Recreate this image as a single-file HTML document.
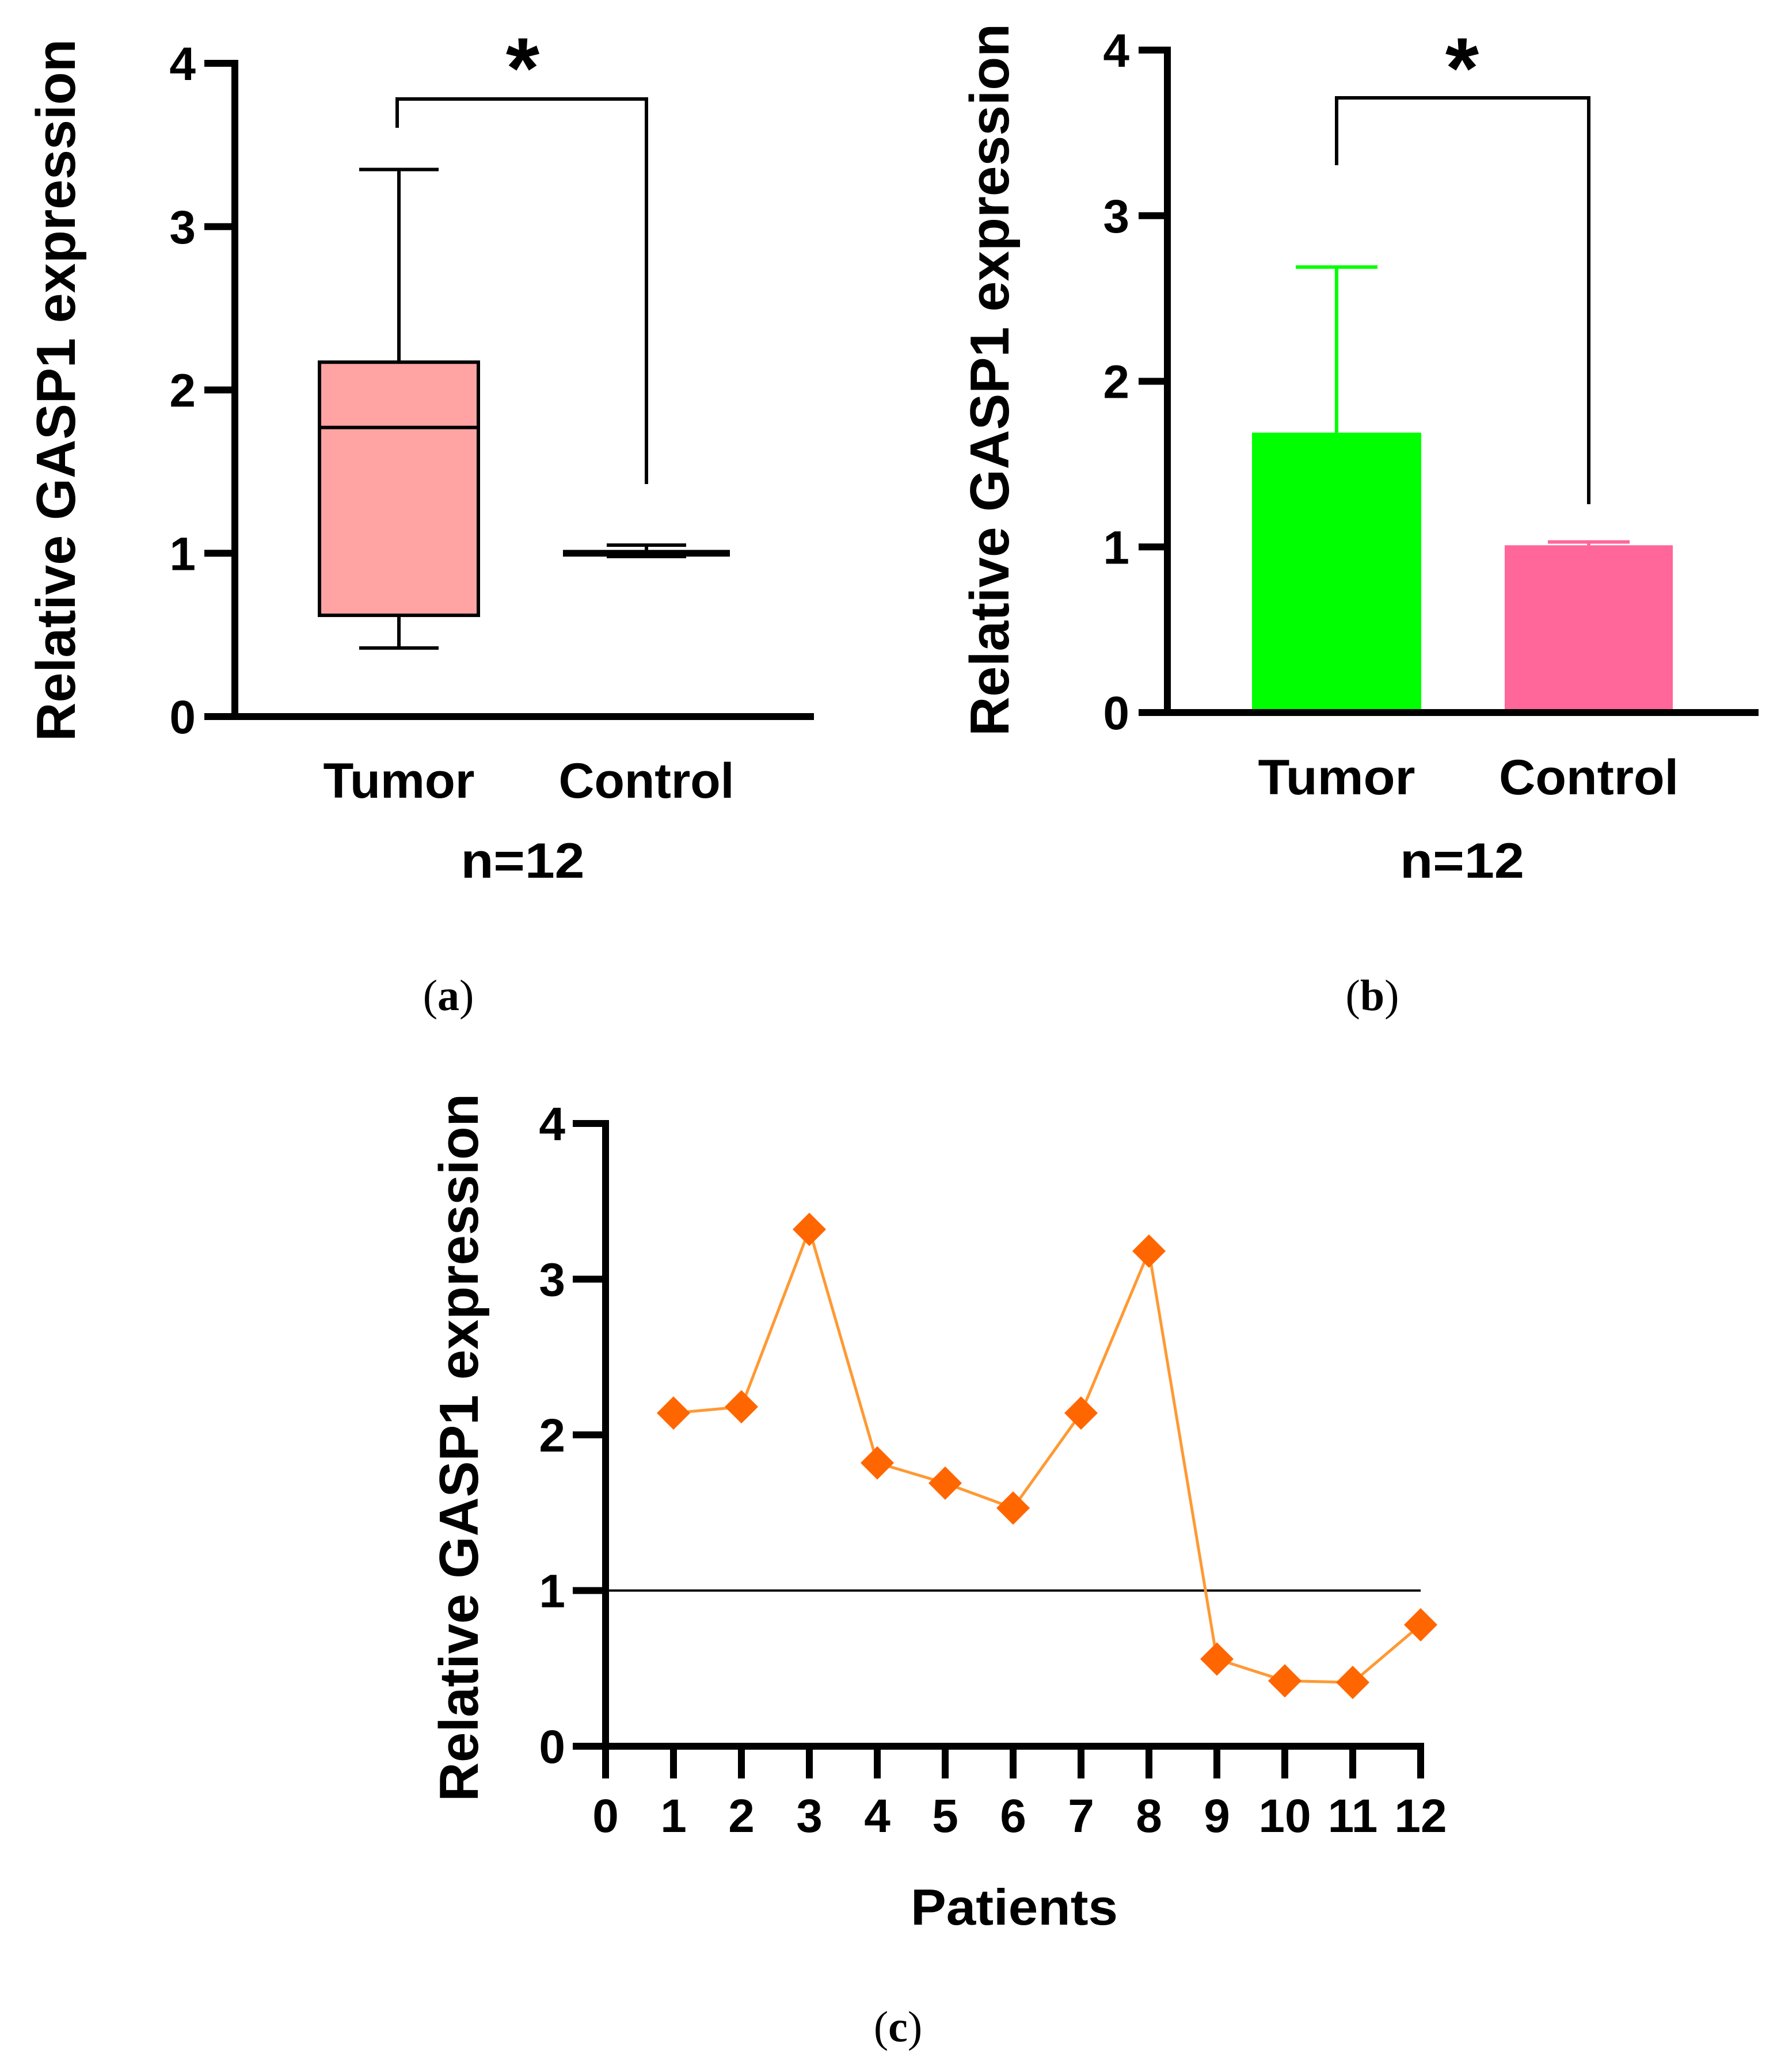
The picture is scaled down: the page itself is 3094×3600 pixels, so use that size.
<!DOCTYPE html>
<html><head><meta charset="utf-8"><style>
html,body{margin:0;padding:0;background:#fff}
svg{display:block}
text{font-family:"Liberation Sans",Arial,sans-serif;font-weight:bold;fill:#000}
.cap{font-family:"Liberation Serif",serif;font-weight:normal}
</style></head><body>
<svg id="fig" width="3094" height="3600" viewBox="0 0 3094 3600" xmlns="http://www.w3.org/2000/svg">
<g id="pa"></g>
<g id="pb"></g>
<g id="pc"></g>
<text class="cap" x="779" y="1755" font-size="76" text-anchor="middle">(<tspan font-weight="bold">a</tspan>)</text>
<text class="cap" x="2384" y="1755" font-size="76" text-anchor="middle">(<tspan font-weight="bold">b</tspan>)</text>
<text class="cap" x="1560" y="3547" font-size="76" text-anchor="middle">(<tspan font-weight="bold">c</tspan>)</text>
</svg>
<script>
const yTicks = [0, 1, 2, 3, 4];
const boxGroups = ["Tumor", "Control"];
const boxMin = [0.42, 0.98];
const boxQ1 = [0.62, 0.99];
const boxMedian = [1.77, 1.0];
const boxQ3 = [2.17, 1.01];
const boxMax = [3.35, 1.05];
const barGroups = ["Tumor", "Control"];
const barMeans = [1.69, 1.01];
const barErrors = [1.0, 0.02];
const patients = [1,2,3,4,5,6,7,8,9,10,11,12];
const expression = [2.14, 2.18, 3.32, 1.82, 1.69, 1.53, 2.14, 3.18, 0.56, 0.42, 0.41, 0.78];
const xTicksC = [0,1,2,3,4,5,6,7,8,9,10,11,12];
const refLevel = 1;

const NS = "http://www.w3.org/2000/svg";
function mk(parent, tag, attrs, txt){
  const e = document.createElementNS(NS, tag);
  for (const k in attrs) e.setAttribute(k, attrs[k]);
  if (txt !== undefined) e.textContent = txt;
  parent.appendChild(e);
  return e;
}
function yAxis(g, x, y0, y4, tickLeft, labelX, fs){
  const ys = v => y0 + (y4 - y0) * v / 4;
  let e = mk(g, "line", {x1:x, y1:y4-6, x2:x, y2:y0+6, stroke:"#000","stroke-width":12});
  
  
  yTicks.forEach(t => {
    let l = mk(g, "line", {x1:tickLeft, y1:ys(t), x2:x, y2:ys(t), stroke:"#000","stroke-width":12});
    
    
    let tx = mk(g, "text", {x:labelX, y:ys(t)+29, "font-size":82, "text-anchor":"end"}, String(t));
    
    
  });
  return ys;
}
function yTitle(g, cx, cy, len){
  let t = mk(g, "text", {x:0, y:0, "font-size":96, "text-anchor":"middle", textLength:len, lengthAdjust:"spacingAndGlyphs", transform:`translate(${cx},${cy}) rotate(-90)`}, "Relative GASP1 expression");
  
  
}
function txt(g, x, y, s, fs, len, name){
  let t = mk(g, "text", {x:x, y:y, "font-size":fs, "text-anchor":"middle", textLength:len, lengthAdjust:"spacingAndGlyphs"}, s);
  
  
  return t;
}
function bracket(g, xl, yl, xr, yr, top, ax, ay){
  let p = mk(g, "path", {d:`M${xl},${yl} V${top} H${xr} V${yr}`, fill:"none", stroke:"#000","stroke-width":6});
  
  
  let s = mk(g, "text", {x:ax, y:ay, "font-size":150, "text-anchor":"middle"}, "*");
  
  
}

// Panel A
(function(){
  const g = document.getElementById("pa");
  const ys = yAxis(g, 408, 1245, 110, 355, 340, 82);
  let xa = mk(g, "line", {x1:355, y1:1245, x2:1414, y2:1245, stroke:"#000","stroke-width":12});
  
  
  const centers = [693, 1123], halfW = [138, 142], capW = [69, 69];
  const fills = ["#FFA3A3", "#FFFFFF"];
  const widths = [263, 305];
  boxGroups.forEach((name, i) => {
    const c = centers[i];
    let w = mk(g, "path", {d:`M${c},${ys(boxMax[i])} V${ys(boxQ3[i])} M${c},${ys(boxQ1[i])} V${ys(boxMin[i])} M${c-capW[i]},${ys(boxMax[i])} H${c+capW[i]} M${c-capW[i]},${ys(boxMin[i])} H${c+capW[i]}`, stroke:"#000","stroke-width":6, fill:"none"});
    
    
    let r = mk(g, "rect", {x:c-halfW[i], y:ys(boxQ3[i]), width:2*halfW[i], height:Math.max(1, ys(boxQ1[i])-ys(boxQ3[i])), fill:fills[i], stroke:"#000","stroke-width":6});
    
    
    let m = mk(g, "line", {x1:c-halfW[i], x2:c+halfW[i], y1:ys(boxMedian[i]), y2:ys(boxMedian[i]), stroke:"#000","stroke-width":6});
    
    
    txt(g, c, 1386, name, 86, widths[i], 'x-tick-label');
  });
  txt(g, 908, 1525, "n=12", 86, 215, 'x-axis-title');
  bracket(g, 690, 222, 1123, 841, 172, 908, 170);
  yTitle(g, 130, 678, 1220);
})();

// Panel B
(function(){
  const g = document.getElementById("pb");
  const ys = yAxis(g, 2028, 1238, 87, 1978, 1962, 82);
  const centers = [2322, 2760], halfW = [147, 146], capW = [71, 71];
  const fills = ["#00FF00", "#FF6699"];
  const widths = [273, 312];
  barGroups.forEach((name, i) => {
    const c = centers[i];
    let e = mk(g, "path", {d:`M${c},${ys(barMeans[i])} V${ys(barMeans[i]+barErrors[i])} M${c-capW[i]},${ys(barMeans[i]+barErrors[i])} H${c+capW[i]}`, stroke:fills[i],"stroke-width":6, fill:"none"});
    
    
    let r = mk(g, "rect", {x:c-halfW[i], y:ys(barMeans[i]), width:2*halfW[i], height:ys(0)-ys(barMeans[i]), fill:fills[i]});
    
    
    txt(g, c, 1380, name, 86, widths[i], 'x-tick-label');
  });
  let xa = mk(g, "line", {x1:1978, y1:1238, x2:3055, y2:1238, stroke:"#000","stroke-width":12});
  
  
  txt(g, 2540, 1525, "n=12", 86, 216, 'x-axis-title');
  bracket(g, 2322, 287, 2760, 876, 170, 2540, 170);
  yTitle(g, 1752, 660, 1238);
})();

// Panel C
(function(){
  const g = document.getElementById("pc");
  const X0 = 1052, XS = 118;
  const xs = v => X0 + XS * v;
  const ys = yAxis(g, X0, 3034, 1952, 995, 982, 82);
  let xa = mk(g, "line", {x1:995, y1:3034, x2:xs(12)+6, y2:3034, stroke:"#000","stroke-width":12});
  
  
  xTicksC.forEach(t => {
    let l = mk(g, "line", {x1:xs(t), x2:xs(t), y1:3034, y2:3090, stroke:"#000","stroke-width":12});
    
    
    let tx = mk(g, "text", {x:xs(t), y:3183, "font-size":82, "text-anchor":"middle"}, String(t));
    
    
  });
  let ref = mk(g, "line", {x1:X0, x2:xs(12), y1:ys(refLevel), y2:ys(refLevel), stroke:"#000","stroke-width":4});
  
  
  let pts = patients.map((p, i) => xs(p) + "," + ys(expression[i])).join(" ");
  let pl = mk(g, "polyline", {points:pts, fill:"none", stroke:"#FF9933","stroke-width":5});
  
  
  patients.forEach((p, i) => {
    const cx = xs(p), cy = ys(expression[i]), r = 29;
    let d = mk(g, "polygon", {points:`${cx},${cy-r} ${cx+r},${cy} ${cx},${cy+r} ${cx-r},${cy}`, fill:"#FF6600"});
    
    
  });
  txt(g, 1762, 3344, "Patients", 88, 360, 'x-axis-title');
  yTitle(g, 830, 2515, 1230);
})();
</script>
</body></html>
